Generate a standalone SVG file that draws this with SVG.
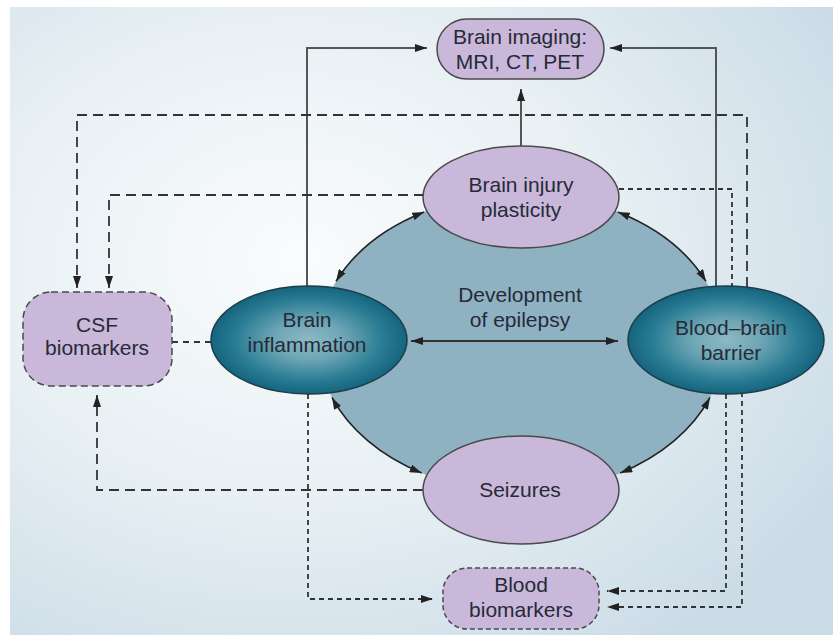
<svg xmlns="http://www.w3.org/2000/svg" width="833" height="642" viewBox="0 0 833 642">
<defs>
<radialGradient id="bg" cx="0.35" cy="0.4" r="0.75">
<stop offset="0" stop-color="#fafcfd"/>
<stop offset="0.5" stop-color="#e8f0f4"/>
<stop offset="1" stop-color="#ccdce7"/>
</radialGradient>
<radialGradient id="teal" cx="0.5" cy="0.5" r="0.5">
<stop offset="0" stop-color="#8db8c4"/>
<stop offset="0.35" stop-color="#6fa7b6"/>
<stop offset="0.75" stop-color="#2a7d94"/>
<stop offset="1" stop-color="#14647d"/>
</radialGradient>
<marker id="ah" viewBox="0 0 12 8" refX="12" refY="4" markerWidth="12" markerHeight="8" markerUnits="userSpaceOnUse" orient="auto-start-reverse">
<path d="M0,0 L12,4 L0,8 z" fill="#222"/>
</marker>
<style>
text{font-family:"Liberation Sans",Arial,sans-serif;font-size:21px;fill:#262a38;text-anchor:middle}
.lav{fill:#c9b8d9;stroke:#4a4a4a;stroke-width:1.5}
.tealn{fill:url(#teal);stroke:#1e3d4a;stroke-width:1.5}
.c{fill:none;stroke:#333;stroke-width:1.8}
.solid{stroke:#555;stroke-width:2}
.dash{stroke-dasharray:10 6}
.dot{stroke-dasharray:5 4}
.arc{fill:none;stroke:#222;stroke-width:1.6}
</style>
</defs>
<rect x="0" y="0" width="833" height="642" fill="#ffffff"/>
<rect x="10" y="7" width="823" height="628" fill="url(#bg)"/>
<ellipse id="epilepsy-circle" cx="521" cy="343" rx="203" ry="149" fill="#8fb2c3"/>
<g id="connectors">
<path class="arc" d="M336,281.4 A203,149 0 0 1 424.2,212" marker-start="url(#ah)" marker-end="url(#ah)"/>
<path class="arc" d="M617.8,212 A203,149 0 0 1 706,281.4" marker-start="url(#ah)" marker-end="url(#ah)"/>
<path class="arc" d="M421.7,473 A203,149 0 0 1 332,397.4" marker-start="url(#ah)" marker-end="url(#ah)"/>
<path class="arc" d="M710,397.4 A203,149 0 0 1 620.3,473" marker-start="url(#ah)" marker-end="url(#ah)"/>
<path class="c" d="M411,341 H618" marker-start="url(#ah)" marker-end="url(#ah)"/>
<path class="c solid" d="M307,287 V48 H427" marker-end="url(#ah)"/>
<path class="c solid" d="M716,287 V48 H610" marker-end="url(#ah)"/>
<path class="c solid" d="M521,146 V89" marker-end="url(#ah)"/>
<path class="c dash" d="M747,287 V115 H77 V288" marker-end="url(#ah)"/>
<path class="c dash" d="M424,195 H109 V288" marker-end="url(#ah)"/>
<path class="c dot" d="M619,189 H732 V287"/>
<path class="c" style="stroke-dasharray:6 5" d="M172,342 H211"/>
<path class="c dash" d="M423,490 H97 V395" marker-end="url(#ah)"/>
<path class="c dot" d="M308,394 V599 H433" marker-end="url(#ah)"/>
<path class="c dot" d="M726,394 V591 H607" marker-end="url(#ah)"/>
<path class="c dot" d="M742,392 V607 H607" marker-end="url(#ah)"/>
</g>
<g id="brain-imaging">
<rect class="lav" x="437" y="19" width="167" height="60" rx="30" ry="30"/>
<text x="520" y="44">Brain imaging:</text>
<text x="520" y="69">MRI, CT, PET</text>
</g>
<g id="brain-injury">
<ellipse class="lav" cx="521" cy="197" rx="98" ry="51"/>
<text x="521" y="192">Brain injury</text>
<text x="521" y="217">plasticity</text>
</g>
<g id="development">
<text x="520" y="302">Development</text>
<text x="520" y="327">of epilepsy</text>
</g>
<g id="brain-inflammation">
<ellipse class="tealn" cx="309" cy="340" rx="98" ry="54"/>
<text x="307" y="327">Brain</text>
<text x="307" y="352">inflammation</text>
</g>
<g id="blood-brain-barrier">
<ellipse class="tealn" cx="726" cy="340" rx="98" ry="54"/>
<text x="731" y="335">Blood–brain</text>
<text x="731" y="360">barrier</text>
</g>
<g id="seizures">
<ellipse class="lav" cx="521" cy="490" rx="98" ry="54"/>
<text x="520" y="497">Seizures</text>
</g>
<g id="csf-biomarkers">
<rect class="lav" style="stroke-dasharray:7 4" x="23" y="292" width="149" height="94" rx="28" ry="28"/>
<text x="97" y="332">CSF</text>
<text x="97" y="355">biomarkers</text>
</g>
<g id="blood-biomarkers">
<rect class="lav" style="stroke-dasharray:5 3" x="443" y="568" width="156" height="61" rx="24" ry="24"/>
<text x="521" y="592">Blood</text>
<text x="521" y="617">biomarkers</text>
</g>
</svg>
